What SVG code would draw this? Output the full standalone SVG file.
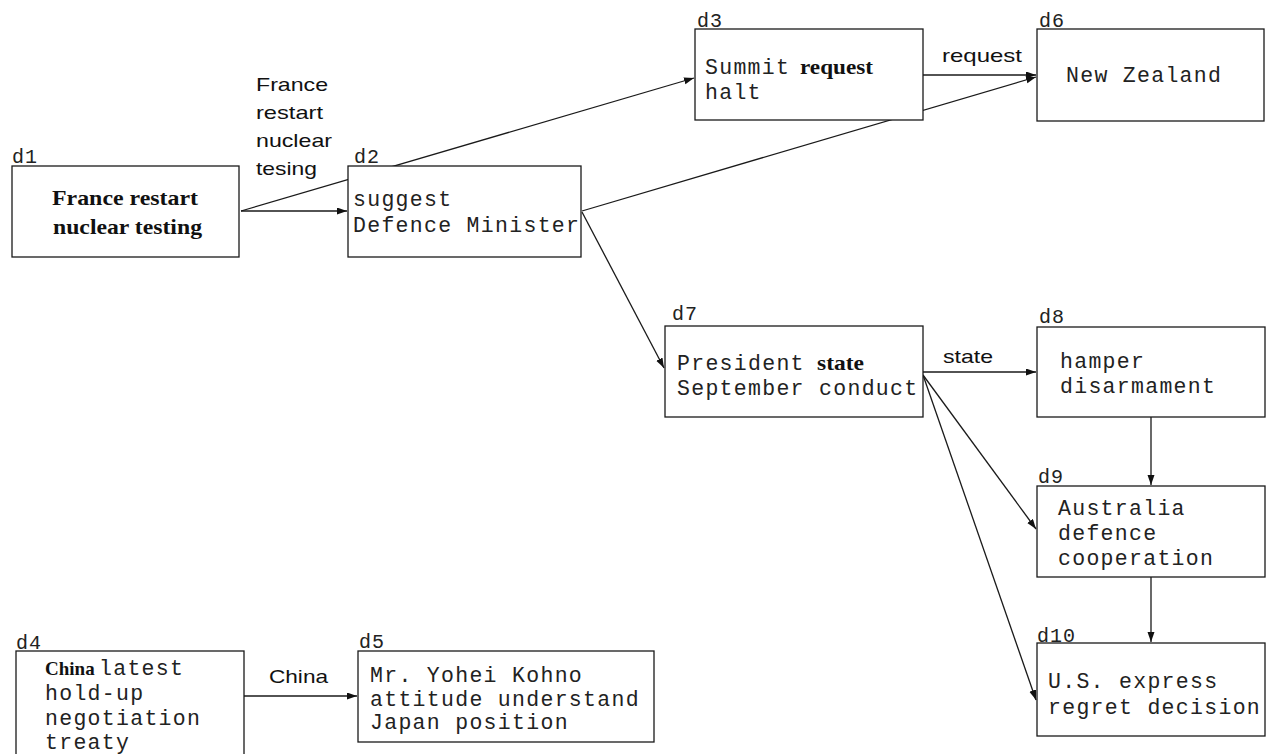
<svg xmlns="http://www.w3.org/2000/svg" width="1271" height="754" viewBox="0 0 1271 754">
<style>
.box{fill:#fff;stroke:#1a1a1a;stroke-width:1.3}
.mono{font-family:"Liberation Mono","DejaVu Sans Mono",monospace;font-size:21.5px;letter-spacing:1.3px;fill:#222}
.lbl{font-family:"Liberation Mono","DejaVu Sans Mono",monospace;font-size:20px;letter-spacing:1px;fill:#222}
.bold{font-family:"Liberation Serif","Times New Roman",serif;font-weight:bold;font-size:21px;letter-spacing:0;fill:#111}
.sans{font-family:"Liberation Sans",Arial,sans-serif;font-size:18.5px;fill:#111}
.edge{fill:none;stroke:#1a1a1a;stroke-width:1.3;marker-end:url(#ah)}
</style>
<defs>
<marker id="ah" markerUnits="userSpaceOnUse" markerWidth="11" markerHeight="8" refX="10" refY="3.5" orient="auto">
<path d="M0,0 L10,3.5 L0,7 z" fill="#111"/>
</marker>
</defs>
<rect width="1271" height="754" fill="#fff"/>
<g id="connectors">
<path class="edge" d="M241 211 L347 211"/>
<path class="edge" d="M241 211 L694 78"/>
<path class="edge" d="M582 211 L1036 77"/>
<path class="edge" d="M923 75 L1036 75"/>
<path class="edge" d="M582 212 L664 368"/>
<path class="edge" d="M923 372 L1036 372"/>
<path class="edge" d="M923 375 L1036 529"/>
<path class="edge" d="M923 375 L1036 700"/>
<path class="edge" d="M1151 417 L1151 485"/>
<path class="edge" d="M1151 577 L1151 642"/>
<path class="edge" d="M244 696 L357 696"/>
<text class="sans" x="256" y="91" textLength="72" lengthAdjust="spacingAndGlyphs">France</text>
<text class="sans" x="256" y="119" textLength="67" lengthAdjust="spacingAndGlyphs">restart</text>
<text class="sans" x="256" y="147" textLength="76" lengthAdjust="spacingAndGlyphs">nuclear</text>
<text class="sans" x="256" y="175" textLength="61" lengthAdjust="spacingAndGlyphs">tesing</text>
<text class="sans" x="942" y="62" textLength="80" lengthAdjust="spacingAndGlyphs">request</text>
<text class="sans" x="943" y="363" textLength="50" lengthAdjust="spacingAndGlyphs">state</text>
<text class="sans" x="269" y="683" textLength="59" lengthAdjust="spacingAndGlyphs">China</text>
</g>
<g id="d1">
<rect class="box" x="12" y="166" width="227" height="91"/>
<text class="lbl" x="12" y="163">d1</text>
<text class="bold" x="52" y="205" textLength="146" lengthAdjust="spacingAndGlyphs">France restart</text>
<text class="bold" x="53" y="234" textLength="149" lengthAdjust="spacingAndGlyphs">nuclear testing</text>
</g>
<g id="d2">
<rect class="box" x="348" y="166" width="233" height="91"/>
<text class="lbl" x="354" y="163">d2</text>
<text class="mono" x="353" y="206">suggest</text>
<text class="mono" x="353" y="232">Defence Minister</text>
</g>
<g id="d3">
<rect class="box" x="695" y="29" width="228" height="91"/>
<text class="lbl" x="697" y="27">d3</text>
<text class="mono" x="705" y="74">Summit</text>
<text class="bold" x="800" y="74" textLength="73" lengthAdjust="spacingAndGlyphs">request</text>
<text class="mono" x="705" y="99">halt</text>
</g>
<g id="d6">
<rect class="box" x="1037" y="29" width="227" height="92"/>
<text class="lbl" x="1039" y="27">d6</text>
<text class="mono" x="1066" y="82">New Zealand</text>
</g>
<g id="d7">
<rect class="box" x="665" y="326" width="258" height="91"/>
<text class="lbl" x="672" y="320">d7</text>
<text class="mono" x="677" y="370">President</text>
<text class="bold" x="817" y="370" textLength="47" lengthAdjust="spacingAndGlyphs">state</text>
<text class="mono" x="677" y="395">September conduct</text>
</g>
<g id="d8">
<rect class="box" x="1037" y="327" width="228" height="90"/>
<text class="lbl" x="1039" y="323">d8</text>
<text class="mono" x="1060" y="368">hamper</text>
<text class="mono" x="1060" y="393">disarmament</text>
</g>
<g id="d9">
<rect class="box" x="1037" y="486" width="228" height="91"/>
<text class="lbl" x="1038" y="483">d9</text>
<text class="mono" x="1058" y="515">Australia</text>
<text class="mono" x="1058" y="540">defence</text>
<text class="mono" x="1058" y="565">cooperation</text>
</g>
<g id="d10">
<rect class="box" x="1037" y="643" width="228" height="93"/>
<text class="lbl" x="1037" y="642">d10</text>
<text class="mono" x="1048" y="688">U.S. express</text>
<text class="mono" x="1048" y="714">regret decision</text>
</g>
<g id="d4">
<rect class="box" x="16" y="651" width="228" height="115"/>
<text class="lbl" x="16" y="649">d4</text>
<text class="mono" x="45" y="675"><tspan class="bold" style="font-size:19px">China</tspan><tspan x="99">latest</tspan></text>
<text class="mono" x="45" y="700">hold-up</text>
<text class="mono" x="45" y="725">negotiation</text>
<text class="mono" x="45" y="749">treaty</text>
</g>
<g id="d5">
<rect class="box" x="358" y="651" width="296" height="91"/>
<text class="lbl" x="359" y="648">d5</text>
<text class="mono" x="370" y="682">Mr. Yohei Kohno</text>
<text class="mono" x="370" y="706">attitude understand</text>
<text class="mono" x="370" y="729">Japan position</text>
</g>
</svg>
